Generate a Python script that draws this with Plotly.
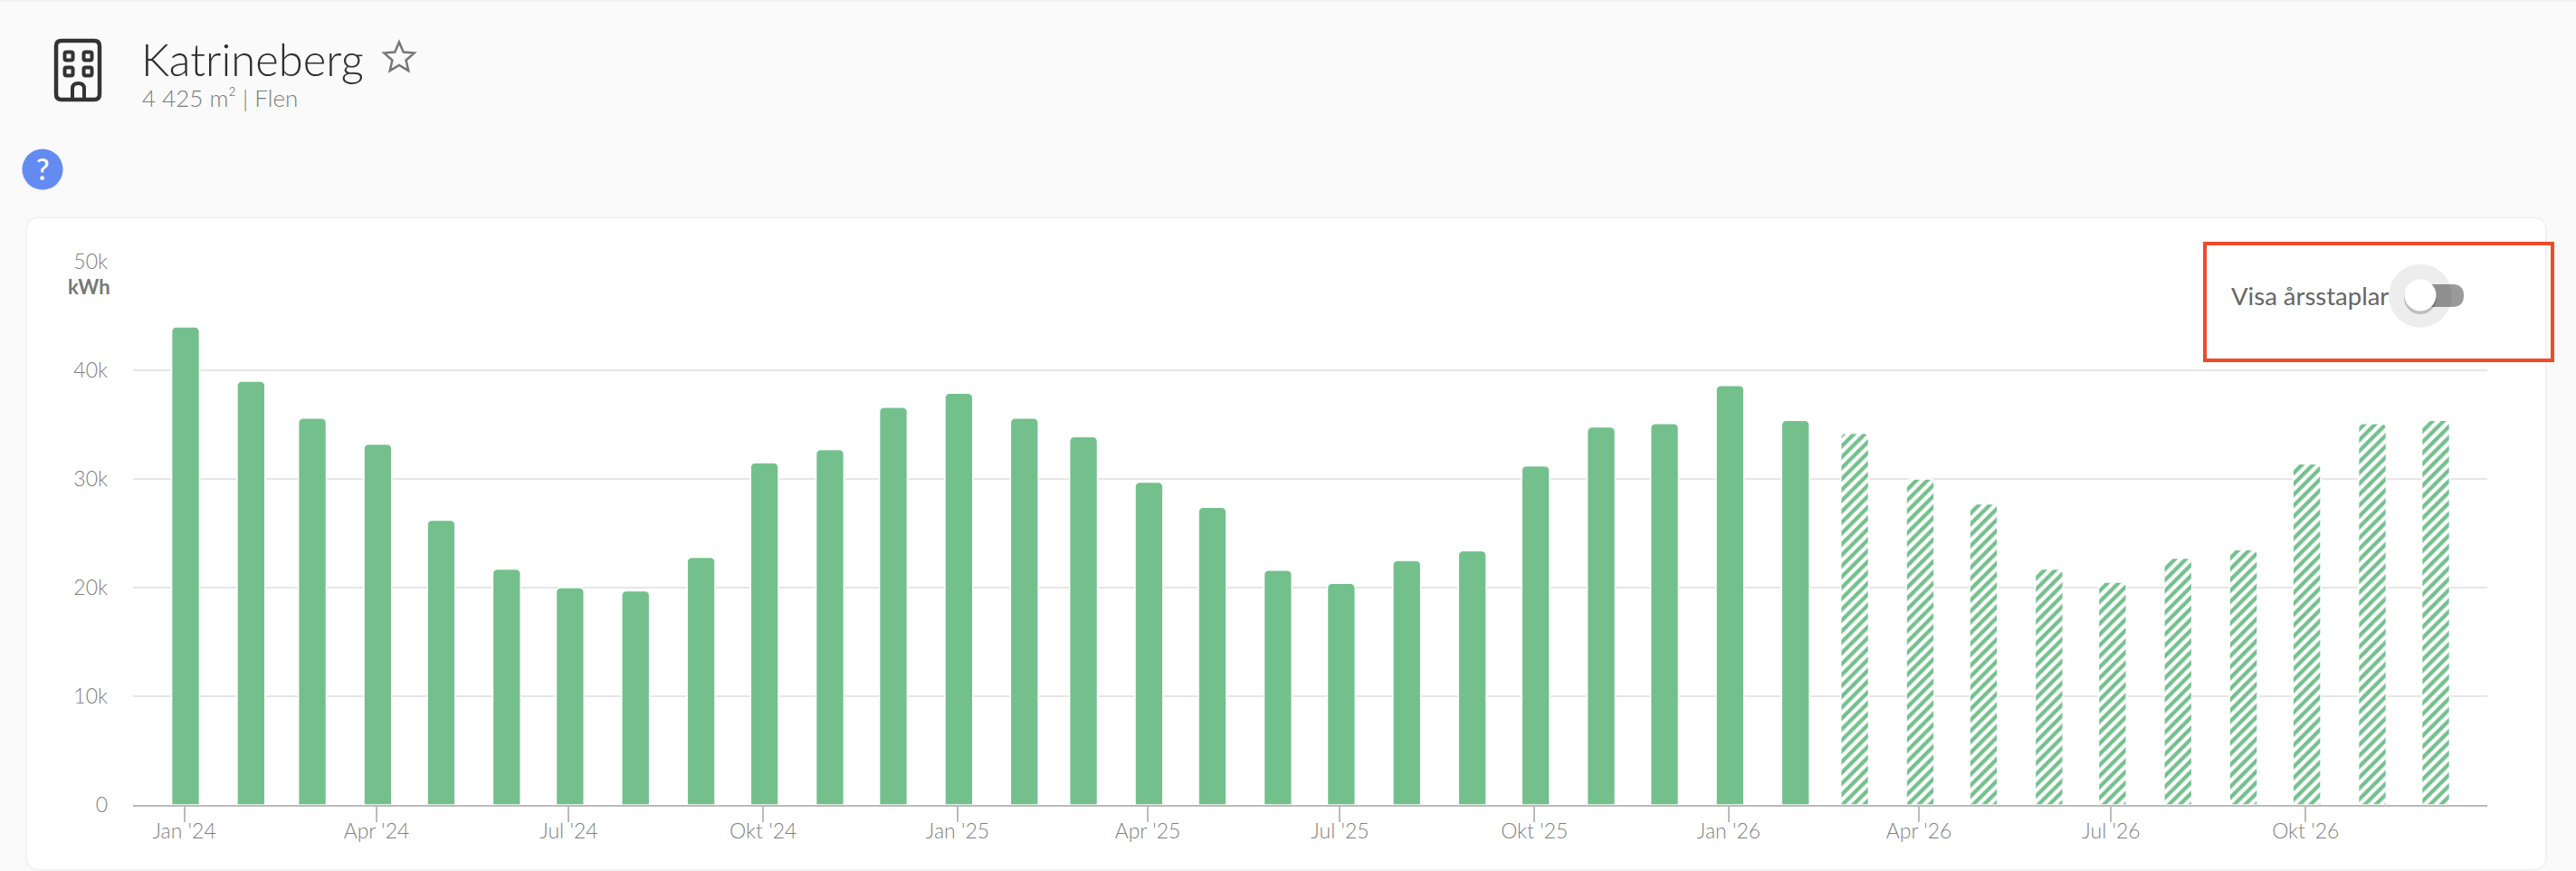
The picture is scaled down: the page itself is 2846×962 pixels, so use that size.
import math
import plotly.graph_objects as go

# ---- data ----
actual_months = ["2024-01-01","2024-02-01","2024-03-01","2024-04-01","2024-05-01","2024-06-01",
                 "2024-07-01","2024-08-01","2024-09-01","2024-10-01","2024-11-01","2024-12-01",
                 "2025-01-01","2025-02-01","2025-03-01","2025-04-01","2025-05-01","2025-06-01",
                 "2025-07-01","2025-08-01","2025-09-01","2025-10-01","2025-11-01","2025-12-01",
                 "2026-01-01","2026-02-01"]
actual_kwh = [44000,39000,35600,33200,26200,21700,20000,19700,22800,31500,32700,36600,
              37900,35600,33900,29700,27400,21600,20400,22500,23400,31200,34800,35100,
              38600,35400]
forecast_months = ["2026-03-01","2026-04-01","2026-05-01","2026-06-01","2026-07-01",
                   "2026-08-01","2026-09-01","2026-10-01","2026-11-01","2026-12-01"]
forecast_kwh = [34200,30000,27700,21700,20500,22700,23500,31400,35100,35400]
x_tick_vals = ["2024-01-01","2024-04-01","2024-07-01","2024-10-01","2025-01-01","2025-04-01",
               "2025-07-01","2025-10-01","2026-01-01","2026-04-01","2026-07-01","2026-10-01"]
x_tick_text = ["Jan '24","Apr '24","Jul '24","Okt '24","Jan '25","Apr '25",
               "Jul '25","Okt '25","Jan '26","Apr '26","Jul '26","Okt '26"]
y_tick_vals = [0,10000,20000,30000,40000,50000]
y_tick_text = ["0","10k","20k","30k","40k","50k"]

# ---- page geometry ----
W, H = 2846, 962
L, R, T, B = 147, 2748, 289, 889
FONT = "Lato"
GREEN = "#73c08d"

def px(x): return (x - L) / (R - L)
def py(y): return (B - y) / (B - T)

def rrect_path(x0, y0, x1, y1, r):
    k = [(x0 + r, y0), (x1 - r, y0), (x1, y0), (x1, y0 + r), (x1, y1 - r), (x1, y1),
         (x1 - r, y1), (x0 + r, y1), (x0, y1), (x0, y1 - r), (x0, y0 + r), (x0, y0), (x0 + r, y0)]
    c = [(px(a), py(b)) for a, b in k]
    s = f"M{c[0][0]},{c[0][1]} L{c[1][0]},{c[1][1]} Q{c[2][0]},{c[2][1]} {c[3][0]},{c[3][1]} "
    s += f"L{c[4][0]},{c[4][1]} Q{c[5][0]},{c[5][1]} {c[6][0]},{c[6][1]} "
    s += f"L{c[7][0]},{c[7][1]} Q{c[8][0]},{c[8][1]} {c[9][0]},{c[9][1]} "
    s += f"L{c[10][0]},{c[10][1]} Q{c[11][0]},{c[11][1]} {c[12][0]},{c[12][1]} Z"
    return s

def path_shape(path, fill="rgba(0,0,0,0)", line=None, lw=0, layer="below", opacity=1):
    return dict(type="path", xref="paper", yref="paper", path=path, fillcolor=fill, opacity=opacity,
                line=dict(color=line or "rgba(0,0,0,0)", width=lw), layer=layer)

def circle(cx, cy, r, fill, layer="below", line=None, lw=0, opacity=1):
    return dict(type="circle", xref="paper", yref="paper", x0=px(cx - r), x1=px(cx + r),
                y0=py(cy + r), y1=py(cy - r), fillcolor=fill, opacity=opacity, layer=layer,
                line=dict(color=line or "rgba(0,0,0,0)", width=lw))

def star_path(cx, cy, ro, ri):
    pts = []
    for i in range(10):
        r = ro if i % 2 == 0 else ri
        a = -math.pi / 2 + i * math.pi / 5
        pts.append((px(cx + r * math.cos(a)), py(cy + r * math.sin(a))))
    return "M" + " L".join(f"{a},{b}" for a, b in pts) + " Z"

shapes = []
# top hairline of page
shapes.append(path_shape(rrect_path(0, 0, W, 2, 0), fill="#f0f0f0"))
# card with soft shadow
for g, op in ((3, 0.006), (2, 0.012), (1, 0.02)):
    shapes.append(path_shape(rrect_path(30 - g, 241 - g, 2812 + g, 960 + g, 14 + g), fill="#000000", opacity=op))
shapes.append(path_shape(rrect_path(30, 241, 2812, 960, 14), fill="#ffffff"))
# building icon
shapes.append(path_shape(rrect_path(62, 45, 110, 110, 6), line="#333333", lw=4.5, layer="above"))
for wx in (76, 97):
    for wy in (62, 79):
        shapes.append(path_shape(rrect_path(wx - 4.5, wy - 4.5, wx + 4.5, wy + 4.5, 2), line="#333333", lw=4, layer="above"))
dl, dr, dt, db = 80, 93, 98, 110
door = (f"M{px(dl)},{py(db)} L{px(dl)},{py(dt)} "
        f"Q{px(dl)},{py(92)} {px((dl + dr) / 2)},{py(92)} "
        f"Q{px(dr)},{py(92)} {px(dr)},{py(dt)} L{px(dr)},{py(db)}")
shapes.append(path_shape(door, line="#333333", lw=4, layer="above"))
# star
shapes.append(path_shape(star_path(441, 64, 17.5, 8), line="#777777", lw=2.5, layer="above"))
# help button
shapes.append(circle(47, 188, 23, "#000000", opacity=0.05))
shapes.append(circle(47, 187, 22.5, "#648bf2"))
# toggle
shapes.append(path_shape(rrect_path(2660, 314, 2722, 339, 12.5), fill="#9a9a9a"))
shapes.append(circle(2674, 326.7, 35, "#000000", opacity=0.07))
shapes.append(circle(2674, 329, 18, "#000000", opacity=0.2, layer="above"))
shapes.append(circle(2674, 326, 17.5, "#ffffff", layer="above"))
# red frame
shapes.append(path_shape(rrect_path(2436, 269, 2820, 398, 0), line="#f04a29", lw=4, layer="above"))

def txt(x, y, s, size, color, anchor="left", weight=300, family=FONT):
    return dict(xref="paper", yref="paper", x=px(x), y=py(y), text=s, showarrow=False,
                xanchor=anchor, yanchor="middle",
                font=dict(family=family, size=size, color=color, weight=weight))

annotations = [
    txt(154, 65, "Katrineberg", 49, "#2e2e2e"),
    txt(155, 108, "4 425 m² | Flen", 26, "#7a7a7a"),
    txt(47, 186, "?", 32, "#ffffff", "center", 600),
    txt(124, 316, "kWh", 22, "#777777", "right", 700),
    txt(2463, 326, "Visa årsstaplar", 27.5, "#666666", weight=400),
]

DAY = 86400000
bar_w = 13.2 * DAY
bar_off = -bar_w / 2 + 0.6 * DAY

fig = go.Figure()
fig.add_bar(x=actual_months, y=actual_kwh, name="Utfall", width=bar_w, offset=bar_off,
            marker=dict(color=GREEN, cornerradius=5, line=dict(color="#ffffff", width=1.5)))
fig.add_bar(x=forecast_months, y=forecast_kwh, name="Prognos", width=bar_w, offset=bar_off,
            marker=dict(color="#ffffff", cornerradius=5, line=dict(color="#ffffff", width=1.5),
                        pattern=dict(shape="/", size=8.5, solidity=0.5, fgcolor=GREEN,
                                     bgcolor="#ffffff", fillmode="replace")))

fig.update_layout(
    width=W, height=H, barmode="overlay", showlegend=False,
    margin=dict(l=L, r=W - R, t=T, b=H - B, pad=0),
    paper_bgcolor="#fafafa", plot_bgcolor="rgba(0,0,0,0)",
    font=dict(family=FONT, color="#7f7f7f", size=23, weight=300),
    shapes=shapes, annotations=annotations,
    xaxis=dict(type="date", range=["2023-12-07 18:00", "2026-12-26"],
               tickmode="array", tickvals=x_tick_vals, ticktext=x_tick_text,
               ticks="outside", ticklen=17, tickwidth=1.5, tickcolor="#bbbbbb",
               showgrid=False, zeroline=False, showline=True, linecolor="#bbbbbb", linewidth=2,
               ticklabelstandoff=-10,
               tickfont=dict(family=FONT, size=23, color="#7f7f7f", weight=300)),
    yaxis=dict(range=[0, 50000], tickmode="array", tickvals=y_tick_vals, ticktext=y_tick_text,
               showgrid=True, gridcolor="#e6e6e6", gridwidth=2, zeroline=False, showline=False,
               ticks="", ticklabelstandoff=27,
               tickfont=dict(family=FONT, size=23, color="#7f7f7f", weight=300)),
)

fig.write_html("out.html", config={"displayModeBar": False},
               post_script="document.body.style.margin='0';document.body.style.background='#fafafa';")
